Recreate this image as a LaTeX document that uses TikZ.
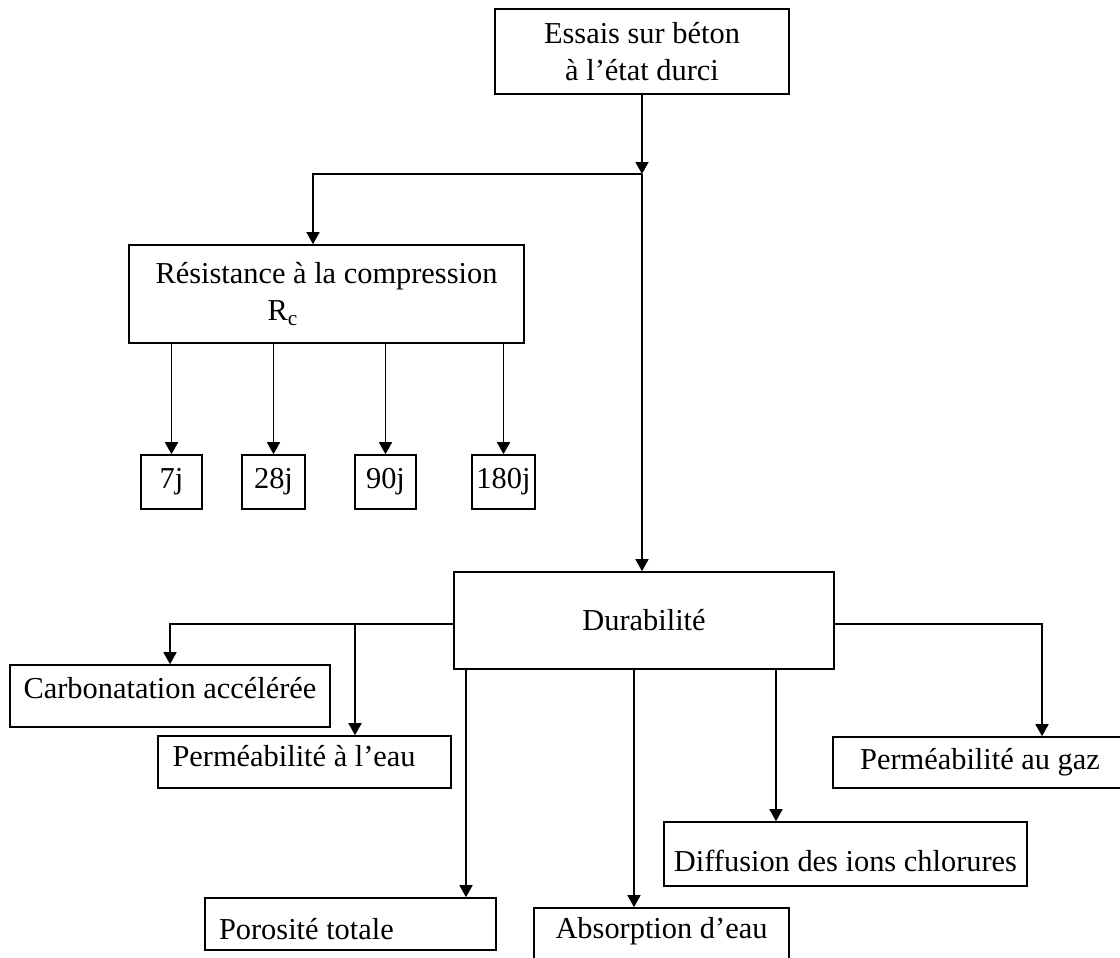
\documentclass[tikz,border=0pt]{standalone}
\usepackage{fontspec}
\setmainfont{Liberation Serif}
\usetikzlibrary{arrows.meta}
\tikzstyle{bloc} = [draw, line width=0.8pt, inner sep=0pt, align=center,
  font=\fontsize{15.2}{18.5}\selectfont]
\tikzstyle{jour} = [bloc, minimum height=27pt]
\tikzstyle{line} = [draw, line width=0.8pt, -{Triangle[width=6.5pt,length=6pt]}]
\newcommand{\boite}[3]{node (#1) [bloc,#2] {#3}}

\begin{document}
\begin{tikzpicture}[x=0.5pt,y=-0.5pt]
  \useasboundingbox (0,0) rectangle (1120,958);

  % essais et resistance
  \path (642,51.5) \boite{ESSAIS}{minimum width=147pt, minimum height=42.5pt}
    {Essais sur béton\\à l’état durci};
  \path (326.5,294) \boite{RESISTANCE}{minimum width=197.5pt, minimum height=49pt, align=flush left}
    {Résistance à la compression\\\hspace*{56pt}R\textsubscript{c}};

  \path (171.5,482) node (J7) [jour, minimum width=30.5pt] {7j};
  \path (273.5,482) node (J28) [jour, minimum width=31.5pt] {28j};
  \path (385.5,482) node (J90) [jour, minimum width=30.5pt] {90j};
  \path (503.5,482) node (J180) [jour, minimum width=31.5pt] {180j};

  % durabilite
  \path (644,620.5) \boite{DURABILITE}{minimum width=190pt, minimum height=48.5pt}
    {Durabilité};
  \path (170,696) \boite{CARBONATATION}{minimum width=160pt, minimum height=31pt, text depth=8.4pt}
    {Carbonatation accélérée};
  \path (304.5,762) \boite{PERMEAU}{minimum height=26pt, text depth=5.6pt,
    align=flush left, inner xsep=7.25pt, text width=132pt}
    {Perméabilité à l’eau};
  \path (350.5,924) \boite{POROSITE}{minimum height=26pt, text height=16pt,
    align=flush left, inner xsep=7pt, text width=131.5pt}
    {Porosité totale};
  \path (661.5,939) \boite{ABSORPTION}{minimum width=127.5pt, minimum height=31pt, text depth=11.4pt}
    {Absorption d’eau};
  \path (845.5,854) \boite{DIFFUSION}{minimum width=181.5pt, minimum height=32pt, text height=18pt}
    {Diffusion des ions chlorures};
  \path (980,762.5) \boite{GAZ}{minimum width=147pt, minimum height=25.5pt}
    {Perméabilité au gaz};

  % points de branchement
  \coordinate (JONCTION) at (642,174);
  \coordinate (COUDE) at (313,174);
  \coordinate (BRANCHEG) at (454,624);
  \coordinate (BRANCHEE) at (355,624);
  \coordinate (BRANCHED) at (834,624);
  \coordinate (COUDED) at (1042,624);
  \coordinate (DEPARTP) at ([xshift=-89pt]DURABILITE.south);
  \coordinate (DEPARTA) at ([xshift=-5pt]DURABILITE.south);
  \coordinate (DEPARTD) at ([xshift=66pt]DURABILITE.south);

  % fleches
  \path [line] (ESSAIS.south) -- (JONCTION);
  \path [line] (JONCTION) -- (COUDE) -- (COUDE |- RESISTANCE.north);
  \path [line] (JONCTION) -- (JONCTION |- DURABILITE.north);
  \foreach \j in {J7,J28,J90,J180}
    \path [line] (RESISTANCE.south -| \j.north) -- (\j.north);

  \path [line] (BRANCHEG) -| (CARBONATATION.north);
  \path [line] (BRANCHEE) -- (BRANCHEE |- PERMEAU.north);
  \path [line] (DEPARTP) -- (DEPARTP |- POROSITE.north);
  \path [line] (DEPARTA) -- (DEPARTA |- ABSORPTION.north);
  \path [line] (DEPARTD) -- (DEPARTD |- DIFFUSION.north);
  \path [line] (BRANCHED) -- (COUDED) -- (COUDED |- GAZ.north);

\end{tikzpicture}
\end{document}
